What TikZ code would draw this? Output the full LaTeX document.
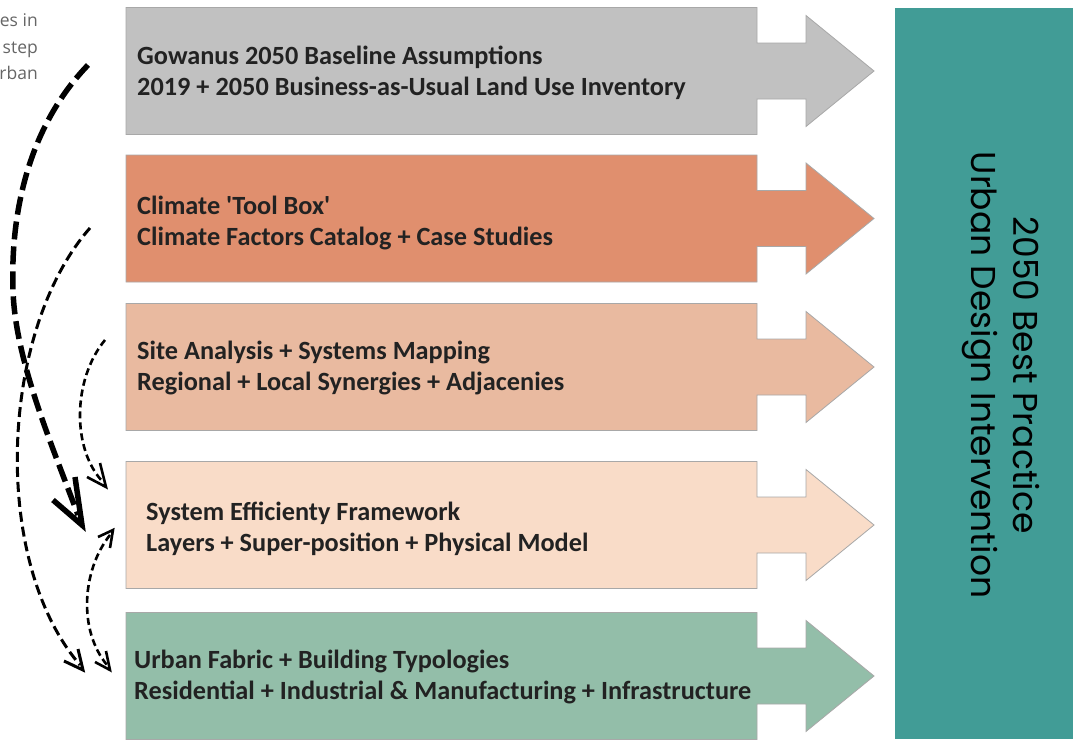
\documentclass[tikz,border=0pt]{standalone}
\usepackage{fontspec}
\setmainfont{Carlito}[Ligatures=TeXOff]
\newfontfamily\gothic{Poppins}
\newfontfamily\notefont{Open Sans}
\usetikzlibrary{calc}
\definecolor{cgray}{HTML}{C1C1C1}
\definecolor{corange}{HTML}{E08F6E}
\definecolor{cpeach}{HTML}{E9BAA0}
\definecolor{clight}{HTML}{F9DCC8}
\definecolor{cgreen}{HTML}{93BEA9}
\definecolor{cteal}{HTML}{419C96}
\definecolor{cedge}{HTML}{A8A8A8}
\definecolor{ctext}{HTML}{222222}
\definecolor{cnote}{HTML}{666666}
\newcommand\arrowbox[2]{%
  \filldraw[boxshape, fill=#2] (126,#1-63.5) -- (757,#1-63.5) -- (757,#1-28) -- (806,#1-28) -- (806,#1-55.5) -- (874,#1) -- (806,#1+55.5) -- (806,#1+28) -- (757,#1+28) -- (757,#1+63.5) -- (126,#1+63.5) -- cycle;}
\begin{document}
\begin{tikzpicture}[x=1pt,y=-1pt,
  boxshape/.style={draw=cedge, line width=0.8pt},
  boxtext/.style={anchor=west, align=left, inner sep=0pt, text=ctext,
    font=\bfseries\fontsize{26.3}{31}\selectfont},
  bigdash/.style={line width=5.5pt, dash pattern=on 18pt off 7pt},
  middash/.style={line width=3pt, dash pattern=on 10pt off 5pt},
  smalldash/.style={line width=2.6pt, dash pattern=on 7pt off 4pt},
  bighead/.style={line width=5.5pt, line join=miter, miter limit=20},
  midhead/.style={line width=3pt, line join=miter, miter limit=20},
  smallhead/.style={line width=2.6pt, line join=miter, miter limit=20}
]
\useasboundingbox (0,0) rectangle (1073,739);
\fill[white] (0,0) rectangle (1073,739);

% arrow boxes
\arrowbox{71}{cgray}
\arrowbox{218.5}{corange}
\arrowbox{367}{cpeach}
\arrowbox{525}{clight}
\arrowbox{676}{cgreen}

% teal result block
\fill[cteal] (895,8) rectangle (1073,739);
\node[rotate=-90, align=center, inner sep=0pt, text=black,
  font=\gothic\fontsize{34.5}{42}\selectfont] (res) at (1001,375)
  {2050 Best Practice\\Urban Design Intervention};

% box texts
\node[boxtext] (b1) at (137,72.5) {Gowanus 2050 Baseline Assumptions\\2019 + 2050 Business-as-Usual Land Use Inventory};
\node[boxtext] (b2) at (137,222.5) {Climate 'Tool Box'\\Climate Factors Catalog + Case Studies};
\node[boxtext] (b3) at (137,367.5) {Site Analysis + Systems Mapping\\Regional + Local Synergies + Adjacenies};
\node[boxtext] (b4) at (146,528.5) {System Efficienty Framework\\Layers + Super-position + Physical Model};
\node[boxtext] (b5) at (134,677) {Urban Fabric + Building Typologies\\Residential + Industrial \& Manufacturing + Infrastructure};

% cut-off note text
\node[anchor=north east, align=right, inner sep=0pt, text=cnote,
  font=\notefont\fontsize{17.5}{26.5}\selectfont] (note) at (38,13.5) {es in\\step\\rban};

% connector end points
\coordinate (a1s) at (88,65);
\coordinate (a1m) at (13,290);
\coordinate (a1e) at (82,525);
\coordinate (a2s) at (90,228);
\coordinate (a2e) at (83,670);
\coordinate (a3s) at (105,340);
\coordinate (a3e) at (106,487);
\coordinate (a4s) at (113,530);
\coordinate (a4e) at (110,670);

% dashed connectors
\draw[bigdash] (a1s) .. controls (35,120) and (10,200) .. (a1m)
  .. controls (15,360) and (52,445) .. ($(a1e)+(-4,-10)$);
\draw[middash] (a2s) .. controls (0,330) and (-10,560) .. ($(a2e)+(-3,-5)$);
\draw[smalldash] (a3s) .. controls (72,380) and (72,450) .. ($(a3e)+(-3,-5)$);
\draw[smalldash] ($(a4s)+(-3,5)$) .. controls (82,570) and (78,630) .. ($(a4e)+(-3,-5)$);

% arrow heads
\draw[bighead] ($(a1e)+(-29,-25)$) -- (a1e) -- ($(a1e)+(-7,-48)$);
\draw[midhead] ($(a2e)+(-19,-9)$) -- (a2e) -- ($(a2e)+(-5,-21)$);
\draw[smallhead] ($(a3e)+(-19,-10)$) -- (a3e) -- ($(a3e)+(-6,-24)$);
\draw[smallhead] ($(a4s)+(-15,7)$) -- (a4s) -- ($(a4s)+(-3,18)$);
\draw[smallhead] ($(a4e)+(-15,-8)$) -- (a4e) -- ($(a4e)+(-4,-19)$);
\end{tikzpicture}
\end{document}
